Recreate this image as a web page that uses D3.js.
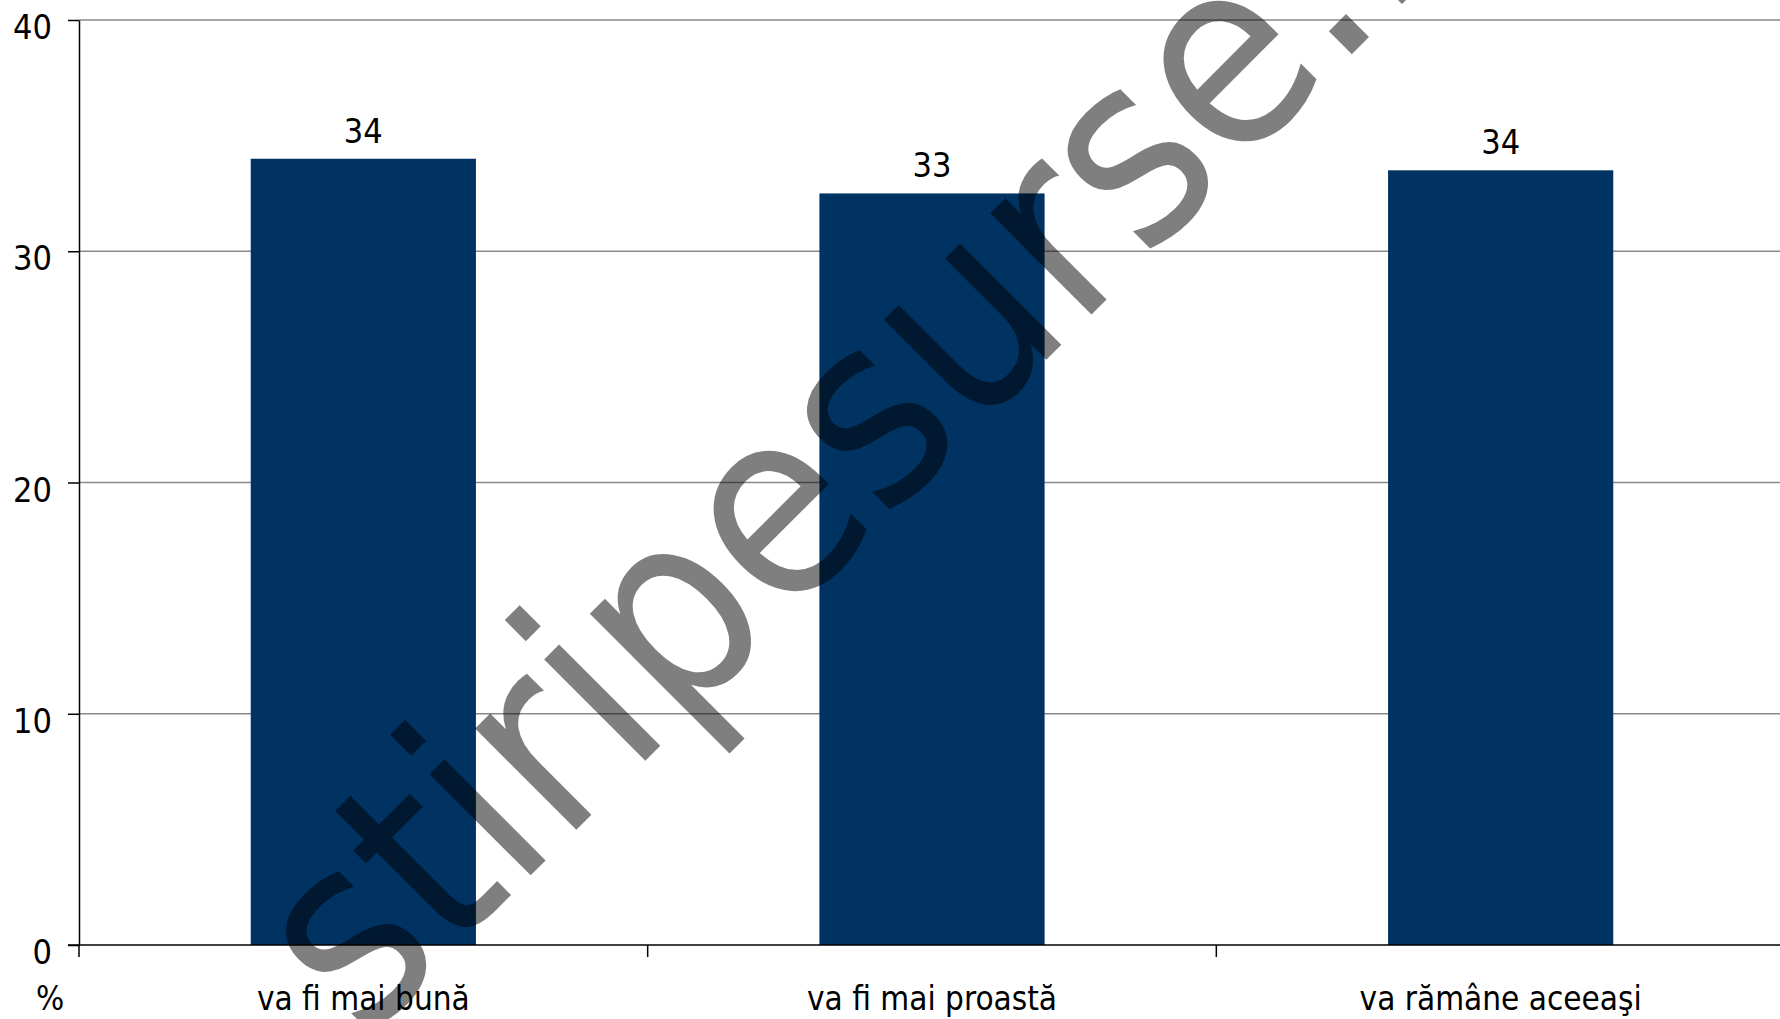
<!DOCTYPE html>
<html>
<head>
<meta charset="utf-8">
<script src="https://cdn.jsdelivr.net/npm/d3@7"></script>
<style>
  html, body { margin: 0; padding: 0; background: #ffffff; }
  svg { display: block; }
</style>
</head>
<body>
<script>
const categories = ["va fi mai bună", "va fi mai proastă", "va rămâne aceeaşi"];
const values = [34.0, 32.5, 33.5];
const valueLabels = ["34", "33", "34"];
const yTicks = [0, 10, 20, 30, 40];
const unitLabel = "%";
const watermarkText = "stiripesurse.ro";

const W = 1780, H = 1019;
const FONT = "'DejaVu Sans Condensed', 'DejaVu Sans', sans-serif";
const BAR = "#003262";

const svg = d3.select("body").append("svg").attr("width", W).attr("height", H);

const x = d3.scaleBand().domain(categories).range([79, 1785]).paddingInner(0.604).paddingOuter(0.302);
const y = d3.scaleLinear().domain([0, 40]).range([945, 20]);

// gridlines
svg.append("g").selectAll("line").data(yTicks.filter(t => t > 0)).join("line")
  .attr("x1", 79).attr("x2", W).attr("y1", d => y(d)).attr("y2", d => y(d))
  .attr("stroke", "#8a8a8a").attr("stroke-width", 1.5);

// bars
svg.append("g").selectAll("rect").data(values).join("rect")
  .attr("x", (d, i) => x(categories[i]))
  .attr("width", x.bandwidth())
  .attr("y", d => y(d))
  .attr("height", d => y(0) - y(d))
  .attr("fill", BAR);

// value labels
svg.append("g").selectAll("text").data(values).join("text")
  .attr("x", (d, i) => x(categories[i]) + x.bandwidth() / 2)
  .attr("y", d => y(d) - 16)
  .attr("text-anchor", "middle")
  .attr("font-family", FONT).attr("font-size", 34).attr("fill", "#000")
  .text((d, i) => valueLabels[i]);

// y axis
const yAxis = d3.axisLeft(y).tickValues(yTicks).tickSize(11).tickSizeOuter(0).tickPadding(16);
const gy = svg.append("g").attr("transform", "translate(79,0)").call(yAxis);
gy.select(".domain").attr("stroke", "#000").attr("stroke-width", 1.5);
gy.selectAll(".tick line").attr("stroke", "#000").attr("stroke-width", 1.5);
gy.selectAll(".tick text").attr("font-family", FONT).attr("font-size", 34).attr("fill", "#000").attr("dy", "0.55em");

// x axis line
svg.append("line").attr("x1", 68).attr("x2", W).attr("y1", y(0)).attr("y2", y(0))
  .attr("stroke", "#000").attr("stroke-width", 1.5);

// x boundary ticks
const step = x.step();
const bounds = d3.range(categories.length + 1).map(i => 79 + i * step);
svg.append("g").selectAll("line").data(bounds).join("line")
  .attr("x1", d => d).attr("x2", d => d).attr("y1", y(0)).attr("y2", y(0) + 12)
  .attr("stroke", "#000").attr("stroke-width", 1.5);

// category labels
svg.append("g").selectAll("text").data(categories).join("text")
  .attr("x", d => x(d) + x.bandwidth() / 2)
  .attr("y", 1010)
  .attr("text-anchor", "middle")
  .attr("font-family", FONT).attr("font-size", 33).attr("fill", "#000")
  .text(d => d);

// unit label
svg.append("text").attr("x", 50).attr("y", 1010).attr("text-anchor", "middle")
  .attr("font-family", FONT).attr("font-size", 33).attr("fill", "#000").text(unitLabel);

// watermark: fitted so the first "i" dot and the "." land where they are in the picture
const wm = svg.append("text")
  .attr("font-family", FONT).attr("font-size", 100)
  .attr("fill", "#000").attr("fill-opacity", 0.5)
  .text(watermarkText);
const node = wm.node();
const cx = k => { const e = node.getExtentOfChar(k); return e.x + e.width / 2; };
const dotIdx = 2, periodIdx = watermarkText.indexOf(".");
const along = 1163; // distance along the baseline between the two marks
const fs = 100 * along / (cx(periodIdx) - cx(dotIdx));
wm.attr("font-size", fs);
const a = cx(dotIdx), b = cx(periodIdx);
const mx = (a + b) / 2, my = -(0.711 + 0.054) / 2 * fs;
const r = Math.SQRT1_2;
const tx = 878.5 - (r * mx + r * my);
const ty = 386 - (-r * mx + r * my);
wm.attr("transform", `translate(${tx},${ty}) rotate(-45)`);
</script>
</body>
</html>
